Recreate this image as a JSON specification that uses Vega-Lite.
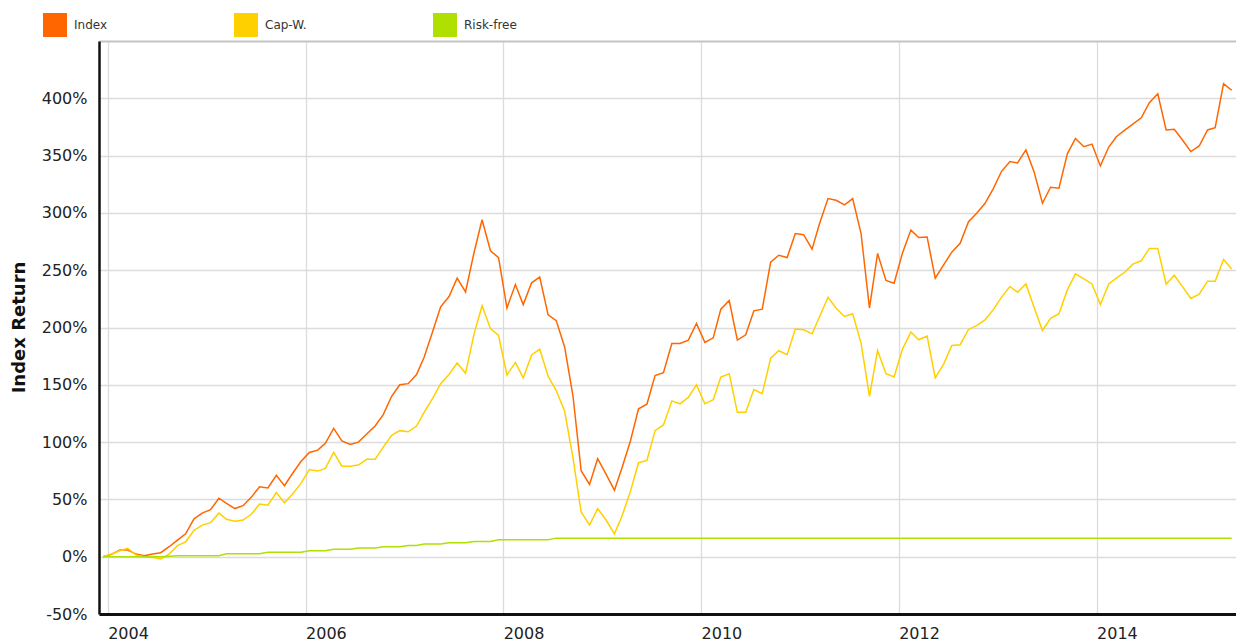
{
"$schema": "https://vega.github.io/schema/vega-lite/v6.json",
"width": 1137,
"height": 573,
"autosize": "none",
"padding": {"left": 99, "top": 41, "right": 0, "bottom": 27},
"background": "white",
"config": {"view": {"stroke": null}, "font": "DejaVu Sans"},
"data": {"values": [
{"d":"2003-12-15","Index":0,"CapW":0,"RiskFree":0},
{"d":"2004-01-15","Index":2,"CapW":2.5,"RiskFree":0},
{"d":"2004-02-15","Index":5.8,"CapW":5.2,"RiskFree":0},
{"d":"2004-03-15","Index":5.8,"CapW":7.3,"RiskFree":0},
{"d":"2004-04-15","Index":2.3,"CapW":1.5,"RiskFree":0},
{"d":"2004-05-15","Index":0.9,"CapW":0,"RiskFree":0},
{"d":"2004-06-15","Index":2.3,"CapW":-0.6,"RiskFree":0},
{"d":"2004-07-15","Index":3.5,"CapW":-2,"RiskFree":0},
{"d":"2004-08-15","Index":8.7,"CapW":2.3,"RiskFree":0.5},
{"d":"2004-09-15","Index":14.5,"CapW":9.6,"RiskFree":0.9},
{"d":"2004-10-15","Index":20,"CapW":13,"RiskFree":0.9},
{"d":"2004-11-15","Index":33,"CapW":23,"RiskFree":0.9},
{"d":"2004-12-15","Index":38,"CapW":27.6,"RiskFree":0.9},
{"d":"2005-01-15","Index":41,"CapW":29.7,"RiskFree":0.9},
{"d":"2005-02-15","Index":51,"CapW":38,"RiskFree":0.9},
{"d":"2005-03-15","Index":46.5,"CapW":32.6,"RiskFree":2.5},
{"d":"2005-04-15","Index":42,"CapW":31,"RiskFree":2.5},
{"d":"2005-05-15","Index":44.5,"CapW":32,"RiskFree":2.5},
{"d":"2005-06-15","Index":52,"CapW":37,"RiskFree":2.5},
{"d":"2005-07-15","Index":61,"CapW":46,"RiskFree":2.5},
{"d":"2005-08-15","Index":60,"CapW":45,"RiskFree":3.8},
{"d":"2005-09-15","Index":71,"CapW":56,"RiskFree":3.8},
{"d":"2005-10-15","Index":62,"CapW":47,"RiskFree":3.8},
{"d":"2005-11-15","Index":73,"CapW":55,"RiskFree":3.8},
{"d":"2005-12-15","Index":83,"CapW":64,"RiskFree":3.8},
{"d":"2006-01-15","Index":91,"CapW":76,"RiskFree":5.2},
{"d":"2006-02-15","Index":93,"CapW":74.7,"RiskFree":5.2},
{"d":"2006-03-15","Index":99,"CapW":77,"RiskFree":5.2},
{"d":"2006-04-15","Index":112,"CapW":91,"RiskFree":6.4},
{"d":"2006-05-15","Index":101,"CapW":79,"RiskFree":6.4},
{"d":"2006-06-15","Index":98,"CapW":79,"RiskFree":6.4},
{"d":"2006-07-15","Index":100,"CapW":80,"RiskFree":7.5},
{"d":"2006-08-15","Index":107,"CapW":85,"RiskFree":7.5},
{"d":"2006-09-15","Index":114,"CapW":85,"RiskFree":7.5},
{"d":"2006-10-15","Index":124,"CapW":95.6,"RiskFree":8.7},
{"d":"2006-11-15","Index":140,"CapW":106,"RiskFree":8.7},
{"d":"2006-12-15","Index":150,"CapW":110,"RiskFree":8.7},
{"d":"2007-01-15","Index":151,"CapW":109,"RiskFree":9.8},
{"d":"2007-02-15","Index":159,"CapW":114,"RiskFree":9.8},
{"d":"2007-03-15","Index":174,"CapW":126,"RiskFree":11},
{"d":"2007-04-15","Index":196,"CapW":138,"RiskFree":11},
{"d":"2007-05-15","Index":218,"CapW":151,"RiskFree":11},
{"d":"2007-06-15","Index":227,"CapW":159,"RiskFree":12.2},
{"d":"2007-07-15","Index":243,"CapW":169,"RiskFree":12.2},
{"d":"2007-08-15","Index":231,"CapW":160,"RiskFree":12.2},
{"d":"2007-09-15","Index":265,"CapW":194,"RiskFree":13.3},
{"d":"2007-10-15","Index":294,"CapW":219,"RiskFree":13.3},
{"d":"2007-11-15","Index":267,"CapW":199,"RiskFree":13.3},
{"d":"2007-12-15","Index":261,"CapW":193,"RiskFree":14.7},
{"d":"2008-01-15","Index":217,"CapW":158.5,"RiskFree":14.7},
{"d":"2008-02-15","Index":237.5,"CapW":169.5,"RiskFree":14.7},
{"d":"2008-03-15","Index":220,"CapW":156,"RiskFree":14.7},
{"d":"2008-04-15","Index":239,"CapW":176,"RiskFree":14.7},
{"d":"2008-05-15","Index":244,"CapW":181,"RiskFree":14.7},
{"d":"2008-06-15","Index":211,"CapW":157.5,"RiskFree":14.7},
{"d":"2008-07-15","Index":206,"CapW":145,"RiskFree":16.2},
{"d":"2008-08-15","Index":183,"CapW":127,"RiskFree":16.2},
{"d":"2008-09-15","Index":140,"CapW":86,"RiskFree":16.2},
{"d":"2008-10-15","Index":75,"CapW":39,"RiskFree":16.2},
{"d":"2008-11-15","Index":63,"CapW":27.6,"RiskFree":16.2},
{"d":"2008-12-15","Index":85.5,"CapW":42,"RiskFree":16.2},
{"d":"2009-01-15","Index":72,"CapW":32,"RiskFree":16.2},
{"d":"2009-02-15","Index":58,"CapW":20,"RiskFree":16.2},
{"d":"2009-03-15","Index":77.6,"CapW":35.5,"RiskFree":16.2},
{"d":"2009-04-15","Index":101,"CapW":57,"RiskFree":16.2},
{"d":"2009-05-15","Index":129,"CapW":82,"RiskFree":16.2},
{"d":"2009-06-15","Index":133,"CapW":84,"RiskFree":16.2},
{"d":"2009-07-15","Index":158,"CapW":110,"RiskFree":16.2},
{"d":"2009-08-15","Index":160.5,"CapW":115,"RiskFree":16.2},
{"d":"2009-09-15","Index":186,"CapW":136,"RiskFree":16.2},
{"d":"2009-10-15","Index":186,"CapW":133.4,"RiskFree":16.2},
{"d":"2009-11-15","Index":189,"CapW":139,"RiskFree":16.2},
{"d":"2009-12-15","Index":203.5,"CapW":150,"RiskFree":16.2},
{"d":"2010-01-15","Index":187,"CapW":133.4,"RiskFree":16.2},
{"d":"2010-02-15","Index":191,"CapW":137,"RiskFree":16.2},
{"d":"2010-03-15","Index":216,"CapW":156.8,"RiskFree":16.2},
{"d":"2010-04-15","Index":223.5,"CapW":159.7,"RiskFree":16.2},
{"d":"2010-05-15","Index":189,"CapW":126,"RiskFree":16.2},
{"d":"2010-06-15","Index":193.6,"CapW":126,"RiskFree":16.2},
{"d":"2010-07-15","Index":214.5,"CapW":145.8,"RiskFree":16.2},
{"d":"2010-08-15","Index":216,"CapW":142.3,"RiskFree":16.2},
{"d":"2010-09-15","Index":257,"CapW":173.3,"RiskFree":16.2},
{"d":"2010-10-15","Index":263,"CapW":179.7,"RiskFree":16.2},
{"d":"2010-11-15","Index":261,"CapW":176.2,"RiskFree":16.2},
{"d":"2010-12-15","Index":282,"CapW":198.6,"RiskFree":16.2},
{"d":"2011-01-15","Index":281,"CapW":198,"RiskFree":16.2},
{"d":"2011-02-15","Index":268.4,"CapW":194.5,"RiskFree":16.2},
{"d":"2011-03-15","Index":291,"CapW":209.6,"RiskFree":16.2},
{"d":"2011-04-15","Index":312.5,"CapW":226.4,"RiskFree":16.2},
{"d":"2011-05-15","Index":311,"CapW":216.8,"RiskFree":16.2},
{"d":"2011-06-15","Index":307,"CapW":209.6,"RiskFree":16.2},
{"d":"2011-07-15","Index":312.5,"CapW":212,"RiskFree":16.2},
{"d":"2011-08-15","Index":282,"CapW":186.4,"RiskFree":16.2},
{"d":"2011-09-15","Index":217,"CapW":140,"RiskFree":16.2},
{"d":"2011-10-15","Index":264.6,"CapW":180,"RiskFree":16.2},
{"d":"2011-11-15","Index":241,"CapW":159.7,"RiskFree":16.2},
{"d":"2011-12-15","Index":238.6,"CapW":156.8,"RiskFree":16.2},
{"d":"2012-01-15","Index":265,"CapW":181.2,"RiskFree":16.2},
{"d":"2012-02-15","Index":285,"CapW":196,"RiskFree":16.2},
{"d":"2012-03-15","Index":278.6,"CapW":189.3,"RiskFree":16.2},
{"d":"2012-04-15","Index":279,"CapW":192.5,"RiskFree":16.2},
{"d":"2012-05-15","Index":243,"CapW":156,"RiskFree":16.2},
{"d":"2012-06-15","Index":254.7,"CapW":168,"RiskFree":16.2},
{"d":"2012-07-15","Index":265.7,"CapW":184.3,"RiskFree":16.2},
{"d":"2012-08-15","Index":273.5,"CapW":185,"RiskFree":16.2},
{"d":"2012-09-15","Index":292.4,"CapW":198.3,"RiskFree":16.2},
{"d":"2012-10-15","Index":299.7,"CapW":201.7,"RiskFree":16.2},
{"d":"2012-11-15","Index":308.4,"CapW":206.7,"RiskFree":16.2},
{"d":"2012-12-15","Index":321,"CapW":215.4,"RiskFree":16.2},
{"d":"2013-01-15","Index":336.3,"CapW":226.5,"RiskFree":16.2},
{"d":"2013-02-15","Index":344.8,"CapW":235.8,"RiskFree":16.2},
{"d":"2013-03-15","Index":343.6,"CapW":230.8,"RiskFree":16.2},
{"d":"2013-04-15","Index":355,"CapW":238,"RiskFree":16.2},
{"d":"2013-05-15","Index":336,"CapW":217.7,"RiskFree":16.2},
{"d":"2013-06-15","Index":308.4,"CapW":197.4,"RiskFree":16.2},
{"d":"2013-07-15","Index":322.4,"CapW":208,"RiskFree":16.2},
{"d":"2013-08-15","Index":321.5,"CapW":212,"RiskFree":16.2},
{"d":"2013-09-15","Index":351.5,"CapW":232.8,"RiskFree":16.2},
{"d":"2013-10-15","Index":365,"CapW":246.8,"RiskFree":16.2},
{"d":"2013-11-15","Index":357.8,"CapW":242.4,"RiskFree":16.2},
{"d":"2013-12-15","Index":360,"CapW":238,"RiskFree":16.2},
{"d":"2014-01-15","Index":341,"CapW":220,"RiskFree":16.2},
{"d":"2014-02-15","Index":357.5,"CapW":238,"RiskFree":16.2},
{"d":"2014-03-15","Index":366.5,"CapW":243,"RiskFree":16.2},
{"d":"2014-04-15","Index":372.3,"CapW":248.2,"RiskFree":16.2},
{"d":"2014-05-15","Index":377.5,"CapW":255.3,"RiskFree":16.2},
{"d":"2014-06-15","Index":383,"CapW":258.2,"RiskFree":16.2},
{"d":"2014-07-15","Index":396.2,"CapW":269,"RiskFree":16.2},
{"d":"2014-08-15","Index":404,"CapW":269,"RiskFree":16.2},
{"d":"2014-09-15","Index":372.4,"CapW":237.8,"RiskFree":16.2},
{"d":"2014-10-15","Index":373,"CapW":245.6,"RiskFree":16.2},
{"d":"2014-11-15","Index":363.4,"CapW":235.5,"RiskFree":16.2},
{"d":"2014-12-15","Index":353.5,"CapW":225.3,"RiskFree":16.2},
{"d":"2015-01-15","Index":358.4,"CapW":229,"RiskFree":16.2},
{"d":"2015-02-15","Index":372.4,"CapW":240.4,"RiskFree":16.2},
{"d":"2015-03-15","Index":374.4,"CapW":240.4,"RiskFree":16.2},
{"d":"2015-04-15","Index":412.8,"CapW":259.3,"RiskFree":16.2},
{"d":"2015-05-15","Index":407,"CapW":251,"RiskFree":16.2}
]},
"transform": [{"fold": ["Index", "CapW", "RiskFree"], "as": ["s", "v"]}],
"mark": {"type": "line", "strokeWidth": 1.5, "clip": true},
"encoding": {
  "x": {
    "field": "d", "type": "temporal",
    "scale": {"domain": [{"year": 2003, "month": 11, "date": 30}, {"year": 2015, "month": 5, "date": 31}]},
    "axis": {
      "title": null, "format": "%Y",
      "values": [{"year": 2004}, {"year": 2006}, {"year": 2008}, {"year": 2010}, {"year": 2012}, {"year": 2014}],
      "ticks": false, "tickSize": 0,
      "labelAlign": "left", "labelDx": 3, "labelPadding": 11, "labelBaseline": "top",
      "labelFontSize": 16, "labelColor": "#222", "labelFont": "DejaVu Sans",
      "labelFlush": false, "labelOverlap": false,
      "domainColor": "#111", "domainWidth": 3,
      "grid": true, "gridColor": "#dcdcdc", "gridWidth": 1.3
    }
  },
  "y": {
    "field": "v", "type": "quantitative",
    "scale": {"domain": [-50, 450], "nice": false, "zero": false},
    "axis": {
      "title": "Index Return",
      "values": [-50, 0, 50, 100, 150, 200, 250, 300, 350, 400, 450],
      "labelExpr": "datum.value == 450 ? '' : datum.value + '%'",
      "ticks": false, "tickSize": 0, "labelPadding": 12,
      "labelFontSize": 16, "labelColor": "#222", "labelFont": "DejaVu Sans",
      "labelFlush": false, "labelOverlap": false,
      "domainColor": "#111", "domainWidth": 2.5,
      "grid": true,
      "gridColor": {"condition": {"test": "datum.value == 450", "value": "#c4c4c4"}, "value": "#dcdcdc"},
      "gridWidth": {"condition": {"test": "datum.value == 450", "value": 2}, "value": 1.3},
      "titleFontSize": 18, "titleFontWeight": "bold", "titleColor": "#111", "titleFont": "DejaVu Sans",
      "titleX": -80, "titleY": 286, "titleAngle": 270, "titleAlign": "center", "titleBaseline": "middle"
    }
  },
  "color": {
    "field": "s", "type": "nominal",
    "scale": {"domain": ["Index", "CapW", "RiskFree"], "range": ["#ff6600", "#ffd000", "#b0e000"]},
    "legend": {
      "title": null, "orient": "none", "legendX": -56, "legendY": -28,
      "direction": "horizontal", "symbolType": "square", "symbolSize": 576,
      "symbolStrokeWidth": 0, "labelFontSize": 12, "labelColor": "#333", "labelFont": "DejaVu Sans",
      "labelOffset": 7, "columnPadding": 126, "padding": 0,
      "labelExpr": "datum.label == 'CapW' ? 'Cap-W.' : datum.label == 'RiskFree' ? 'Risk-free' : datum.label",
      "encode": {"symbols": {"update": {"fill": {"scale": "color", "field": "value"}, "stroke": {"value": "transparent"}, "opacity": {"value": 1}}}}
    }
  }
}
}
